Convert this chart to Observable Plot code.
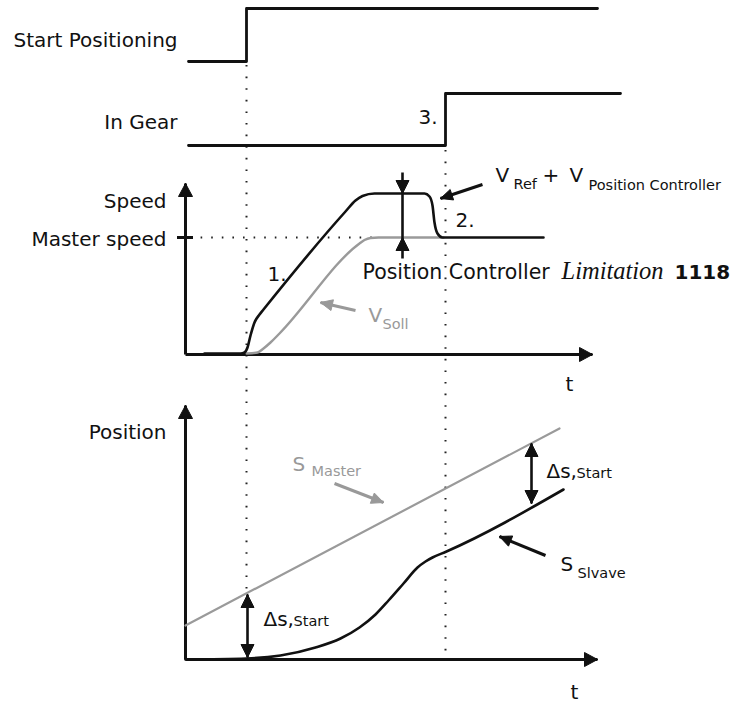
<!DOCTYPE html>
<html><head><meta charset="utf-8">
<script src="https://cdn.jsdelivr.net/npm/d3@7"></script>
<script src="https://cdn.jsdelivr.net/npm/@observablehq/plot@0.6"></script>
<style>body{margin:0;background:#fff}</style>
</head><body><div id="chart"></div>
<script>
// ---- Data (diagram units: t = horizontal time position, v = vertical level) ----
const signalStartPositioning = [
  {t:188,v:61},{t:246,v:61},{t:246,v:8},{t:597,v:8}];
const signalInGear = [
  {t:188,v:145},{t:445,v:145},{t:445,v:93},{t:620,v:93}];

const speedRefPlusController = [
  {t:204,v:353},{t:240,v:353},{t:244,v:352},{t:247,v:347},{t:250,v:335},{t:254,v:322},
  {t:259,v:314},{t:263,v:309},{t:345,v:211},{t:355,v:200},{t:362,v:195.5},{t:374,v:193},
  {t:424,v:193},{t:429,v:196},{t:432,v:205},{t:434,v:222},{t:437,v:233},{t:442,v:237},{t:543,v:237}];
const speedSoll = [
  {t:246,v:353},{t:257,v:352},{t:263,v:348},{t:270,v:342},{t:279,v:333},{t:359,v:243},
  {t:364,v:239.5},{t:370,v:237.5},{t:378,v:237},{t:443,v:237}];

const posMaster = [{t:185,v:625},{t:559,v:428}];
const posSlave = [
  {t:185,v:659},{t:246,v:658},{t:280,v:655},{t:315,v:647},{t:340,v:638},{t:359,v:627},
  {t:375,v:614},{t:388,v:600},{t:403,v:583},{t:417,v:567},{t:425,v:561},{t:432,v:557},
  {t:446,v:551},{t:563,v:489}];

// dotted markers
const eventLines = [{t:246,v1:65,v2:590},{t:445,v1:150,v2:659}];
const masterSpeedGuide = [{v:237,t1:190,t2:372}];
const masterSpeedTick = [{v:237,t1:177,t2:193}];

// axes (tail -> tip)
const axes = [
  {tail:[185,354],tip:[185,183]},{tail:[185,354],tip:[592,354]},
  {tail:[185,659],tip:[185,405]},{tail:[185,659],tip:[597,659]}];

// pointer arrows (tail -> tip)
const pointers = [
  {tail:[482,184],tip:[440,198],c:"#111"},
  {tail:[355,310],tip:[320,302],c:"#999"},
  {tail:[334,483],tip:[383,502],c:"#999"},
  {tail:[545,555],tip:[499,536],c:"#111"}];

// double arrows: vertical shaft from top to bottom, heads at tipDown (pointing down) and tipUp (pointing up)
const doubleArrows = [
  {t:402, top:172, tipDown:193, tipUp:237, bottom:258},
  {t:247, top:594, tipDown:657, tipUp:594, bottom:657},
  {t:531, top:443, tipDown:503, tipUp:443, bottom:503}];

// labels
const labelsRight = [
  {x:177,y:46,s:"Start Positioning"},
  {x:177,y:128,s:"In Gear"},
  {x:166,y:207,s:"Speed"},
  {x:166,y:245,s:"Master speed"},
  {x:166,y:438,s:"Position"}];
const labelsMain = [
  {x:418,y:123,s:"3."},
  {x:267,y:280,s:"1."},
  {x:455,y:226,s:"2."},
  {x:565,y:390,s:"t"},
  {x:570,y:698,s:"t"},
  {x:495,y:181,s:"V"},
  {x:542,y:181,s:"+"},
  {x:569,y:181,s:"V"},
  {x:546,y:477,s:"Δs,"},
  {x:263,y:625,s:"Δs,"},
  {x:560,y:570,s:"S"}];
const labelController = [{x:362,y:278,s:"Position Controller"}];
const labelsSub = [
  {x:513,y:188,s:"Ref"},
  {x:588,y:189,s:"Position Controller"},
  {x:576,y:477,s:"Start"},
  {x:293,y:625,s:"Start"},
  {x:577,y:577,s:"Slvave"}];
const labelsGrayMain = [{x:368,y:321,s:"V"},{x:292,y:470,s:"S"}];
const labelsGraySub = [{x:382,y:328,s:"Soll"},{x:311,y:475,s:"Master"}];
const labelItalic = [{x:561,y:278,s:"Limitation"}];
const labelBold = [{x:674,y:278,s:"1118"}];

// ---- geometry helpers ----
function head(id, tail, tip, L, W, color) {
  const dx = tip[0]-tail[0], dy = tip[1]-tail[1], d = Math.hypot(dx,dy);
  const ux = dx/d, uy = dy/d, bx = tip[0]-L*ux, by = tip[1]-L*uy;
  return [
    {id, c:color, x:tip[0], y:tip[1]},
    {id, c:color, x:bx-uy*W/2, y:by+ux*W/2},
    {id, c:color, x:bx+uy*W/2, y:by-ux*W/2},
    {id, c:color, x:tip[0], y:tip[1]}];
}
const heads = [];
axes.forEach((a,i)=>heads.push(...head("ax"+i, a.tail, a.tip, 13, 14, "#111")));
pointers.forEach((p,i)=>heads.push(...head("p"+i, p.tail, p.tip, 12, 11, p.c)));
doubleArrows.forEach((d,i)=>{
  heads.push(...head("dd"+i, [d.t, d.tipDown-20], [d.t, d.tipDown], 13, 13, "#111"));
  heads.push(...head("du"+i, [d.t, d.tipUp+20], [d.t, d.tipUp], 13, 13, "#111"));
});

const SANS = "Tahoma, 'DejaVu Sans', Verdana, sans-serif";
const txt = (data, o) => Plot.text(data, {x:"x", y:"y", text:"s", lineAnchor:"bottom", fontFamily:SANS, textAnchor:"start", ...o});

const chart = Plot.plot({
  width: 737, height: 704, margin: 0,
  x: {domain: [0, 737], axis: null},
  y: {domain: [704, 0], axis: null},
  style: {background: "#fff", overflow: "visible"},
  marks: [
    Plot.ruleX(eventLines, {x:"t", y1:"v1", y2:"v2", stroke:"#222", strokeWidth:2, strokeDasharray:"1.6,10"}),
    Plot.ruleY(masterSpeedGuide, {y:"v", x1:"t1", x2:"t2", stroke:"#222", strokeWidth:2, strokeDasharray:"1.6,9"}),
    Plot.link(axes, {x1:d=>d.tail[0], y1:d=>d.tail[1], x2:d=>d.tip[0], y2:d=>d.tip[1], stroke:"#111", strokeWidth:3}),
    Plot.ruleY(masterSpeedTick, {y:"v", x1:"t1", x2:"t2", stroke:"#111", strokeWidth:3}),
    Plot.line(signalStartPositioning, {x:"t", y:"v", stroke:"#111", strokeWidth:2.8}),
    Plot.line(signalInGear, {x:"t", y:"v", stroke:"#111", strokeWidth:2.8}),
    Plot.line(speedSoll, {x:"t", y:"v", curve:"monotone-x", stroke:"#9a9a9a", strokeWidth:2.4}),
    Plot.line(speedRefPlusController, {x:"t", y:"v", curve:"monotone-x", stroke:"#111", strokeWidth:2.6}),
    Plot.line(posMaster, {x:"t", y:"v", stroke:"#9a9a9a", strokeWidth:2.2}),
    Plot.line(posSlave, {x:"t", y:"v", curve:"monotone-x", stroke:"#111", strokeWidth:2.6}),
    Plot.link(pointers, {x1:d=>d.tail[0], y1:d=>d.tail[1], x2:d=>d.tip[0], y2:d=>d.tip[1], stroke:d=>d.c, strokeWidth:3}),
    Plot.link(doubleArrows, {x1:"t", y1:"top", x2:"t", y2:"bottom", stroke:"#111", strokeWidth:2.6}),
    Plot.line(heads, {x:"x", y:"y", z:"id", fill:d=>d.c, stroke:d=>d.c, strokeWidth:1, curve:"linear"}),
    txt(labelsRight, {textAnchor:"end", fontSize:20, fill:"#111"}),
    txt(labelsMain, {fontSize:20, fill:"#111"}),
    txt(labelController, {fontSize:20.5, fill:"#111"}),
    txt(labelsSub, {fontSize:14.5, fill:"#111"}),
    txt(labelsGrayMain, {fontSize:20, fill:"#999"}),
    txt(labelsGraySub, {fontSize:14.5, fill:"#999"}),
    txt(labelItalic, {fontSize:24.5, fontStyle:"italic", fontFamily:"'Liberation Serif', 'Times New Roman', serif", fill:"#111"}),
    txt(labelBold, {fontSize:20, fontWeight:"bold", fill:"#111"})
  ]
});
document.getElementById("chart").appendChild(chart);
</script>
</body></html>
